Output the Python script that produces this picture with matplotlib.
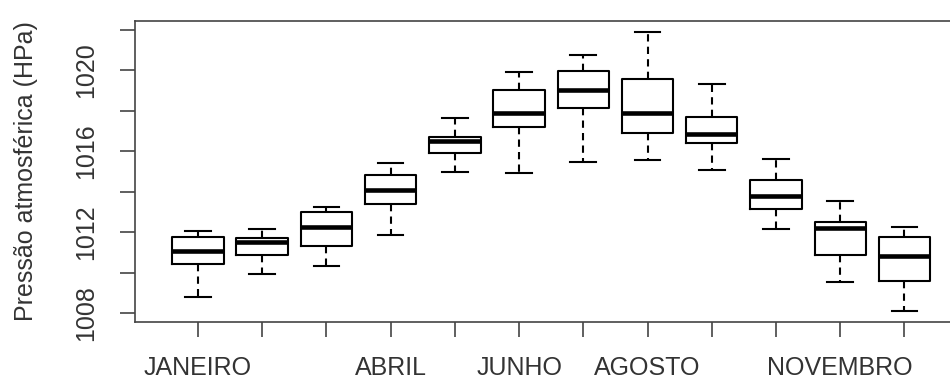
import matplotlib
matplotlib.use("Agg")
import matplotlib.pyplot as plt

# Monthly atmospheric pressure (hPa), boxplot statistics
MONTHS = ["JANEIRO", "FEVEREIRO", "MARÇO", "ABRIL", "MAIO", "JUNHO",
          "JULHO", "AGOSTO", "SETEMBRO", "OUTUBRO", "NOVEMBRO", "DEZEMBRO"]
# labels that R actually printed (the others were dropped for overlap)
SHOWN_LABELS = ["JANEIRO", "ABRIL", "JUNHO", "AGOSTO", "NOVEMBRO"]

WHISKER_LOW = [1008.82, 1009.94, 1010.35, 1011.87, 1015.00, 1014.92,
               1015.47, 1015.58, 1015.09, 1012.18, 1009.56, 1008.11]
Q1 = [1010.42, 1010.88, 1011.34, 1013.41, 1015.94, 1017.18,
      1018.14, 1016.90, 1016.41, 1013.14, 1010.88, 1009.61]
MEDIAN = [1011.10, 1011.54, 1012.28, 1014.10, 1016.49, 1017.89,
          1019.04, 1017.89, 1016.85, 1013.80, 1012.20, 1010.83]
Q3 = [1011.79, 1011.71, 1013.00, 1014.84, 1016.70, 1019.01,
      1019.98, 1019.57, 1017.72, 1014.59, 1012.53, 1011.79]
WHISKER_HIGH = [1012.07, 1012.15, 1013.24, 1015.42, 1017.64, 1019.90,
                1020.77, 1021.90, 1019.33, 1015.63, 1013.55, 1012.25]

Y_TICKS = [1008, 1010, 1012, 1014, 1016, 1018, 1020, 1022]
Y_TICK_LABELS = ["1008", "", "1012", "", "1016", "", "1020", ""]

plt.rcParams.update({
    "font.family": ["Liberation Sans", "DejaVu Sans"],
    "font.size": 18,
})

fig = plt.figure(figsize=(9.5, 3.81), dpi=100)
ax = fig.add_axes([0.1421, 0.1549, 0.8762, 0.79])

stats = []
for i, name in enumerate(MONTHS):
    stats.append({
        "label": name,
        "whislo": WHISKER_LOW[i],
        "q1": Q1[i],
        "med": MEDIAN[i],
        "q3": Q3[i],
        "whishi": WHISKER_HIGH[i],
        "fliers": [],
    })

positions = list(range(1, len(MONTHS) + 1))
ax.bxp(
    stats,
    positions=positions,
    widths=0.8,
    capwidths=0.4,
    showfliers=False,
    boxprops=dict(color="black", linewidth=1.5),
    medianprops=dict(color="black", linewidth=3.3, solid_capstyle="butt"),
    whiskerprops=dict(color="black", linewidth=1.5, linestyle=(0, (3.5, 2.5))),
    capprops=dict(color="black", linewidth=1.5),
)

ax.set_xlim(0.02, 12.98)
ax.set_ylim(1007.57, 1022.44)

ax.set_xticks(positions)
ax.set_xticklabels([m if m in SHOWN_LABELS else "" for m in MONTHS])
ax.set_yticks(Y_TICKS)
ax.set_yticklabels(Y_TICK_LABELS)

for s in ax.spines.values():
    s.set_color("#444444")
    s.set_linewidth(1.2)

ax.tick_params(axis="both", direction="out", length=10.8, width=1.2,
               color="#444444", labelcolor="#333333")
ax.tick_params(axis="x", pad=14)
ax.tick_params(axis="y", pad=16, labelrotation=90)
for lbl in ax.get_yticklabels():
    lbl.set_verticalalignment("center")

ax.set_ylabel("Pressão atmosférica (HPa)", color="#333333")
ax.yaxis.set_label_coords(-0.117, 0.5)

fig.savefig("out.png", dpi=100)
